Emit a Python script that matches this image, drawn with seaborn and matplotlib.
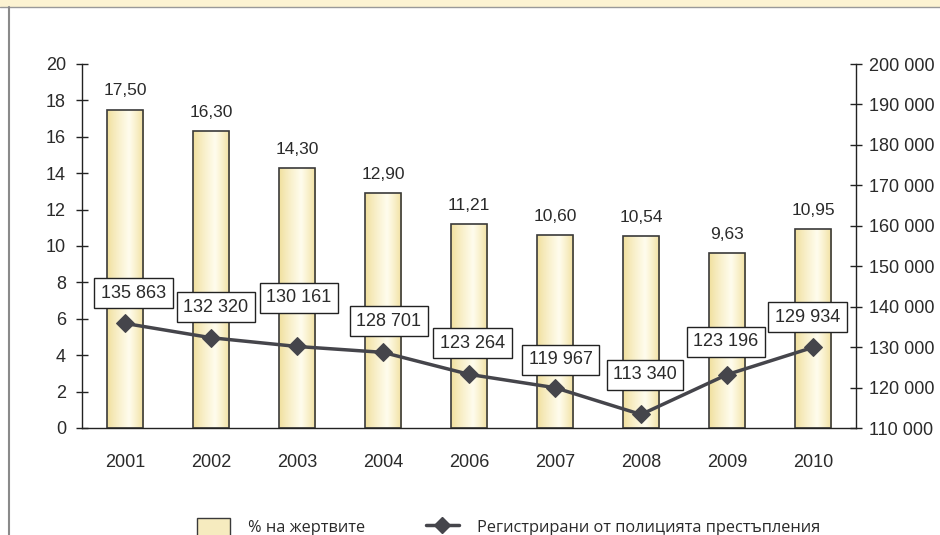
import numpy as np
import pandas as pd
import matplotlib
matplotlib.use("Agg")
import matplotlib.pyplot as plt
import seaborn as sns
from matplotlib.patches import Rectangle, Patch
from matplotlib.lines import Line2D

years = ['2001', '2002', '2003', '2004', '2006', '2007', '2008', '2009', '2010']
victims_pct = [17.50, 16.30, 14.30, 12.90, 11.21, 10.60, 10.54, 9.63, 10.95]
crimes = [135863, 132320, 130161, 128701, 123264, 119967, 113340, 123196, 129934]
left_ticks = list(range(0, 21, 2))
right_ticks = list(range(110000, 200001, 10000))
bar_legend = '% на жертвите'
line_legend = 'Регистрирани от полицията престъпления'

# label box offsets in pixels (dx, dy)
label_offsets = [(8.5, 30), (5, 30.5), (2, 48.5), (6, 31), (3.5, 31),
                 (5.5, 28), (4, 39.5), (-1, 33), (-5.5, 30)]

sns.set_style("white")
plt.rcParams['font.family'] = ['Liberation Sans', 'DejaVu Sans']
txt = '#2a2a2a'
line_col = '#45454b'

fig = plt.figure(figsize=(9.4, 5.35), dpi=100)
ax = fig.add_axes([82/940, 1-428/535, (856-82)/940, (428-64)/535])

df = pd.DataFrame({'year': years, 'pct': victims_pct, 'crimes': crimes})
sns.barplot(data=df, x='year', y='pct', ax=ax, width=0.42, color='#f3e6b0',
            edgecolor='#3a3a3a', linewidth=1.2, zorder=2)

# gradient fill
c_edge = np.array([0.94, 0.87, 0.60])
c_mid = np.array([1.0, 0.99, 0.93])
xs = np.linspace(0, 1, 200)
prof = np.where(xs < 0.6, xs/0.6, (1-xs)/0.4)
prof = np.clip(prof, 0, 1) ** 0.8
grad = (c_edge[None, :] * (1-prof[:, None]) + c_mid[None, :] * prof[:, None])[None, :, :]
for p in ax.patches:
    x0, y0 = p.get_x(), p.get_y()
    w, h = p.get_width(), p.get_height()
    im = ax.imshow(grad, extent=[x0, x0+w, y0, y0+h], aspect='auto', zorder=1.5,
                   interpolation='bilinear')
    im.set_clip_path(p)
    p.set_facecolor('none')
    p.set_zorder(2.5)

ax.set_xlim(-0.5, 8.5)
ax.set_ylim(0, 20)
ax.bar_label(ax.containers[0], labels=[f"{v:.2f}".replace('.', ',') for v in victims_pct],
             padding=8, fontsize=12.5, color=txt)

ax.set_yticks(left_ticks)
ax.set_yticklabels([str(t) for t in left_ticks], fontsize=13, color=txt)
ax.set_xticks(np.arange(-0.5, 9, 1))
ax.set_xticklabels([])
ax.set_xticks(np.arange(9), minor=True)
ax.set_xticklabels(years, minor=True, fontsize=13, color=txt)
ax.tick_params(axis='x', which='major', direction='inout', length=8, width=1, color='#222')
ax.tick_params(axis='x', which='minor', length=0, pad=19)
ax.tick_params(axis='y', direction='inout', length=9, width=1, color='#222', pad=7)
ax.set_xlabel('')
ax.set_ylabel('')
for s in ['top', 'right']:
    ax.spines[s].set_visible(False)
for s in ['left', 'bottom']:
    ax.spines[s].set_color('#222')
    ax.spines[s].set_linewidth(1)

ax2 = ax.twinx()
sns.lineplot(x=np.arange(9), y=crimes, ax=ax2, color=line_col, linewidth=2.5,
             marker='D', markersize=9.5, markeredgecolor=line_col, zorder=5)
ax2.set_ylim(110000, 200000)
ax2.set_xlim(-0.5, 8.5)
ax2.set_yticks(right_ticks)
ax2.set_yticklabels([f"{t:,}".replace(',', ' ') for t in right_ticks], fontsize=13, color=txt)
ax2.tick_params(axis='y', direction='inout', length=9, width=1, color='#222', pad=5)
ax2.set_ylabel('')
for s in ['top', 'left', 'bottom']:
    ax2.spines[s].set_visible(False)
ax2.spines['right'].set_color('#222')
ax2.spines['right'].set_linewidth(1)

for i, (v, off) in enumerate(zip(crimes, label_offsets)):
    ax2.annotate(f"{v:,}".replace(',', ' '), xy=(i, v), xytext=(off[0]*0.72, off[1]*0.72),
                 textcoords='offset points', ha='center', va='center', fontsize=13,
                 color=txt, zorder=6,
                 bbox=dict(boxstyle='square,pad=0.36', fc='white', ec='#222', lw=1))

# decorations: top band and left line
fig.patches.append(Rectangle((0, 1-7/535), 1, 7/535, transform=fig.transFigure,
                             facecolor='#fcf3d2', edgecolor='none', zorder=0))
fig.add_artist(Line2D([0, 1], [1-7/535, 1-7/535], transform=fig.transFigure,
                      color='#999', lw=1))
fig.add_artist(Line2D([8.5/940, 8.5/940], [0, 1-7/535], transform=fig.transFigure,
                      color='#8a8a8a', lw=1.5))

handles = [Patch(facecolor='#f6ebbf', edgecolor='#3a3a3a', lw=1),
           Line2D([], [], color=line_col, lw=2.5, marker='D', markersize=8)]
fig.legend(handles, [bar_legend, line_legend], loc='center left',
           bbox_to_anchor=(189/940, 8/535), ncol=2, frameon=False,
           handlelength=2.0, handleheight=1.4, columnspacing=3.7, handletextpad=1.1,
           labelcolor=txt, borderpad=0, prop={'family': 'Open Sans', 'size': 11.8})

fig.savefig('out.png', dpi=100)
